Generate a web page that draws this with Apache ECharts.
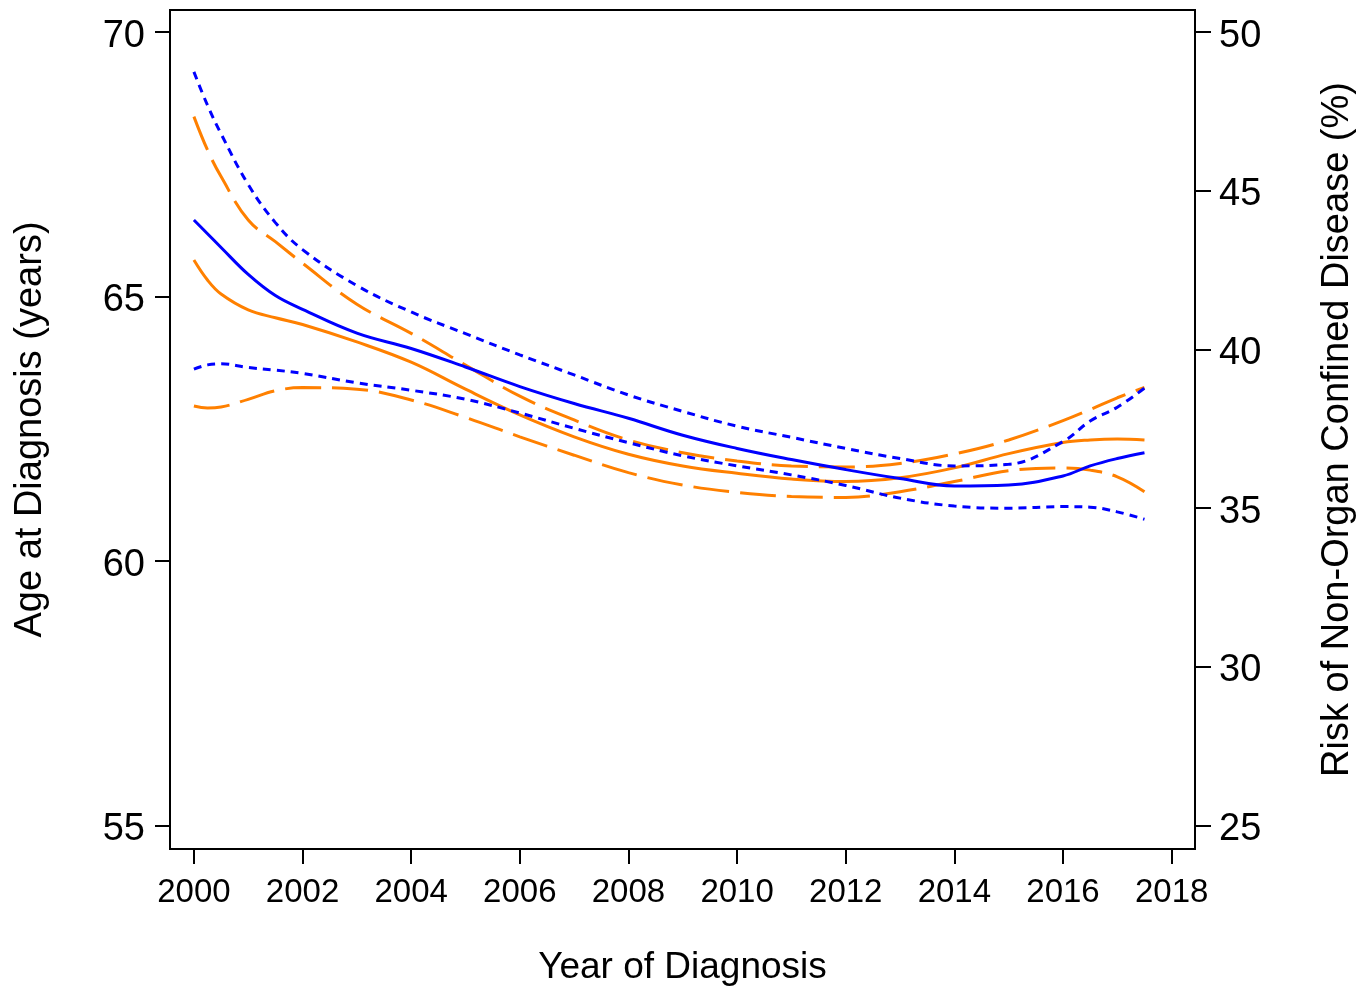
<!DOCTYPE html>
<html>
<head>
<meta charset="utf-8">
<script src="https://cdn.jsdelivr.net/npm/echarts@6/dist/echarts.min.js"></script>
<style>
html,body{margin:0;padding:0;background:#ffffff;}
#chart{width:1372px;height:990px;}
</style>
</head>
<body>
<div id="chart"></div>
<script>
// ---- data ----
const years = [2000, 2000.25, 2000.5, 2001, 2001.5, 2002, 2003, 2004, 2005, 2006, 2007, 2008, 2009, 2010, 2011, 2012, 2013, 2014, 2015, 2016, 2016.5, 2017, 2017.5];
const xTicks = [2000, 2002, 2004, 2006, 2008, 2010, 2012, 2014, 2016, 2018];
const ageTicks = [55, 60, 65, 70];
const riskTicks = [25, 30, 35, 40, 45, 50];

// Age at diagnosis (left axis, blue)
const ageUpper = [69.25, 68.62, 68.08, 67.12, 66.40, 65.89, 65.21, 64.71, 64.30, 63.90, 63.52, 63.14, 62.83, 62.55, 62.34, 62.13, 61.94, 61.80, 61.83, 62.26, 62.65, 62.91, 63.27];
const ageMean  = [66.45, 66.19, 65.93, 65.42, 65.02, 64.76, 64.31, 64.02, 63.67, 63.30, 62.98, 62.70, 62.38, 62.13, 61.92, 61.73, 61.56, 61.42, 61.44, 61.61, 61.80, 61.94, 62.05];
const ageLower = [63.63, 63.71, 63.73, 63.66, 63.61, 63.55, 63.37, 63.23, 63.06, 62.80, 62.51, 62.24, 61.99, 61.80, 61.63, 61.43, 61.19, 61.04, 61.00, 61.03, 61.02, 60.93, 60.79];

// Risk of non-organ confined disease (right axis, orange)
const riskUpper = [47.34, 46.29, 45.45, 44.08, 43.40, 42.72, 41.43, 40.51, 39.51, 38.53, 37.78, 37.15, 36.75, 36.49, 36.33, 36.30, 36.41, 36.71, 37.15, 37.76, 38.11, 38.48, 38.81];
const riskMean  = [42.82, 42.19, 41.75, 41.25, 41.00, 40.79, 40.24, 39.60, 38.75, 37.94, 37.25, 36.70, 36.33, 36.10, 35.92, 35.84, 35.96, 36.27, 36.72, 37.07, 37.15, 37.18, 37.15];
const riskLower = [38.22, 38.16, 38.19, 38.43, 38.70, 38.80, 38.75, 38.41, 37.86, 37.25, 36.67, 36.12, 35.73, 35.50, 35.37, 35.34, 35.52, 35.84, 36.18, 36.27, 36.20, 35.99, 35.52];

// ---- chart ----
const FONT = "'Liberation Sans', Arial, Helvetica, sans-serif";
const BLUE = '#0000FF';
const ORANGE = '#FF8000';
const zip = (ys) => years.map((x, i) => [x, ys[i]]);
const plain = (v) => String(Math.round(v));

function lineSeries(name, ys, axis, color, type) {
  return {
    name: name,
    type: 'line',
    yAxisIndex: axis,
    data: zip(ys),
    showSymbol: false,
    symbol: 'none',
    smooth: 0.4,
    lineStyle: { color: color, width: 3, type: type, cap: 'butt' },
    itemStyle: { color: color },
    emphasis: { disabled: true },
    z: 3
  };
}

const axisLineStyle = { show: true, onZero: false, lineStyle: { color: '#000', width: 2 } };

const option = {
  animation: false,
  backgroundColor: '#ffffff',
  textStyle: { fontFamily: FONT, color: '#000' },
  grid: {
    left: 170, right: 177, top: 10, bottom: 141,
    show: true, borderColor: '#000', borderWidth: 2,
    containLabel: false, outerBoundsMode: 'none'
  },
  xAxis: {
    type: 'value',
    min: 1999.56, max: 2018.43,
    name: 'Year of Diagnosis',
    nameLocation: 'middle',
    nameGap: 100,
    nameTextStyle: { fontSize: 37, color: '#000', fontFamily: FONT },
    axisLine: axisLineStyle,
    axisTick: { show: true, length: 15, lineStyle: { color: '#000', width: 2 }, customValues: xTicks },
    axisLabel: { show: true, customValues: xTicks, formatter: plain, fontSize: 33, color: '#000', fontFamily: FONT, margin: 27 },
    splitLine: { show: false }
  },
  yAxis: [
    {
      type: 'value',
      position: 'left',
      min: 54.556, max: 70.42,
      name: 'Age at Diagnosis (years)',
      nameLocation: 'middle',
      nameRotate: 90,
      nameGap: 120,
      nameTextStyle: { fontSize: 38, color: '#000', fontFamily: FONT },
      axisLine: axisLineStyle,
      axisTick: { show: true, length: 15, lineStyle: { color: '#000', width: 2 }, customValues: ageTicks },
      axisLabel: { show: true, customValues: ageTicks, formatter: plain, fontSize: 38, color: '#000', fontFamily: FONT, margin: 25, verticalAlign: 'top', lineHeight: 8 },
      splitLine: { show: false }
    },
    {
      type: 'value',
      position: 'right',
      min: 24.26, max: 50.70,
      name: 'Risk of Non-Organ Confined Disease (%)',
      nameLocation: 'middle',
      nameRotate: 90,
      nameGap: 124,
      nameTextStyle: { fontSize: 38, color: '#000', fontFamily: FONT },
      axisLine: axisLineStyle,
      axisTick: { show: true, length: 16, lineStyle: { color: '#000', width: 2 }, customValues: riskTicks },
      axisLabel: { show: true, customValues: riskTicks, formatter: plain, fontSize: 38, color: '#000', fontFamily: FONT, margin: 24, verticalAlign: 'top', lineHeight: 8 },
      splitLine: { show: false }
    }
  ],
  series: [
    lineSeries('Risk upper', riskUpper, 1, ORANGE, [36, 11]),
    lineSeries('Risk lower', riskLower, 1, ORANGE, [36, 11]),
    lineSeries('Risk', riskMean, 1, ORANGE, 'solid'),
    lineSeries('Age upper', ageUpper, 0, BLUE, [8, 6]),
    lineSeries('Age lower', ageLower, 0, BLUE, [8, 6]),
    lineSeries('Age', ageMean, 0, BLUE, 'solid')
  ]
};

const chart = echarts.init(document.getElementById('chart'), null, { renderer: 'canvas' });
chart.setOption(option);
</script>
</body>
</html>
